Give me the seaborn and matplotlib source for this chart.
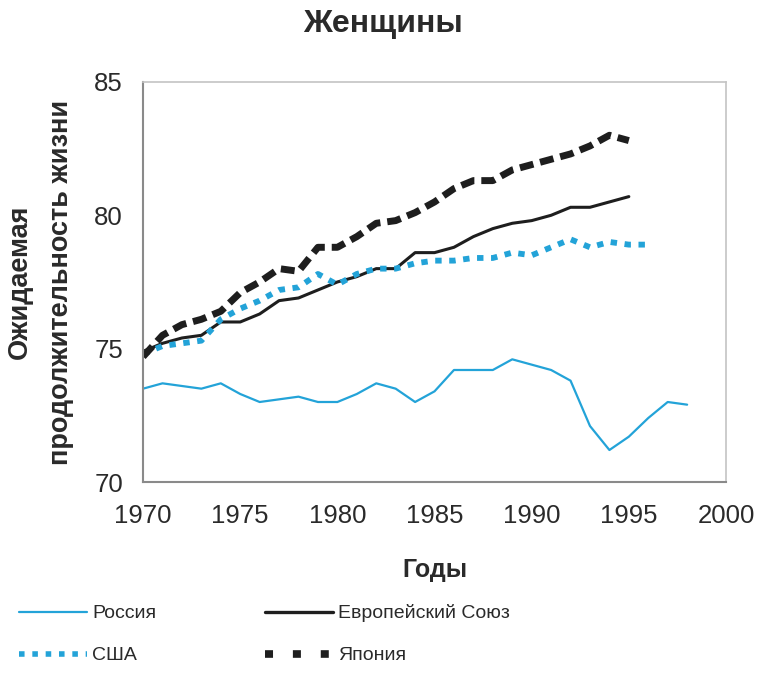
import matplotlib
matplotlib.use("Agg")
import matplotlib.pyplot as plt
from matplotlib.lines import Line2D
import seaborn as sns
import pandas as pd

# Female life expectancy, years
years_russia = list(range(1970, 1999))
russia = [73.5, 73.7, 73.6, 73.5, 73.7, 73.3, 73.0, 73.1, 73.2, 73.0,
          73.0, 73.3, 73.7, 73.5, 73.0, 73.4, 74.2, 74.2, 74.2, 74.6,
          74.4, 74.2, 73.8, 72.1, 71.2, 71.7, 72.4, 73.0, 72.9]

years_eu = list(range(1970, 1996))
eu = [74.9, 75.2, 75.4, 75.5, 76.0, 76.0, 76.3, 76.8, 76.9, 77.2,
      77.5, 77.7, 78.0, 78.0, 78.6, 78.6, 78.8, 79.2, 79.5, 79.7,
      79.8, 80.0, 80.3, 80.3, 80.5, 80.7]

years_usa = list(range(1970, 1997))
usa = [74.8, 75.1, 75.2, 75.3, 76.1, 76.5, 76.8, 77.2, 77.3, 77.8,
       77.4, 77.8, 78.0, 78.0, 78.2, 78.3, 78.3, 78.4, 78.4, 78.6,
       78.5, 78.8, 79.1, 78.8, 79.0, 78.9, 78.9]

years_japan = list(range(1970, 1996))
japan = [74.7, 75.5, 75.9, 76.1, 76.4, 77.1, 77.5, 78.0, 77.9, 78.8,
         78.8, 79.2, 79.7, 79.8, 80.1, 80.5, 81.0, 81.3, 81.3, 81.7,
         81.9, 82.1, 82.3, 82.6, 83.0, 82.8]

x_ticks = [1970, 1975, 1980, 1985, 1990, 1995, 2000]
y_ticks = [70, 75, 80, 85]

BLUE = "#23a3d8"
BLACK = "#1e1e1e"

sns.set_style("white")
plt.rcParams["font.family"] = ["Liberation Sans", "DejaVu Sans"]

fig = plt.figure(figsize=(7.61, 6.77), dpi=100)
ax = fig.add_axes([0.188, 0.288, 0.766, 0.591])

df_r = pd.DataFrame({"year": years_russia, "value": russia})
df_e = pd.DataFrame({"year": years_eu, "value": eu})
df_u = pd.DataFrame({"year": years_usa, "value": usa})
df_j = pd.DataFrame({"year": years_japan, "value": japan})

sns.lineplot(data=df_r, x="year", y="value", ax=ax, color=BLUE, lw=1.6)
sns.lineplot(data=df_e, x="year", y="value", ax=ax, color=BLACK, lw=2.2)
sns.lineplot(data=df_u, x="year", y="value", ax=ax, color=BLUE, lw=4.2,
             dashes=False, linestyle=(0, (1.1, 1.3)), dash_capstyle="butt")
sns.lineplot(data=df_j, x="year", y="value", ax=ax, color=BLACK, lw=5.0,
             dashes=False, linestyle=(0, (2.0, 1.0)), dash_capstyle="butt")

ax.set_xlim(1970, 2000)
ax.set_ylim(70, 85)
ax.set_xticks(x_ticks)
ax.set_yticks(y_ticks)
ax.tick_params(axis="both", direction="inout", length=9, width=1.1,
               color="#888888", labelsize=18.5, labelcolor="#2a2a2a")
ax.tick_params(axis="y", pad=10)
ax.tick_params(axis="x", pad=11)

for side in ["left", "bottom"]:
    ax.spines[side].set_color("#8a8a8a")
    ax.spines[side].set_linewidth(1.5)
for side in ["top", "right"]:
    ax.spines[side].set_color("#c4c4c4")
    ax.spines[side].set_linewidth(1.2)

ax.set_xlabel("Годы", fontsize=18, fontweight="bold", color="#2a2a2a",
              labelpad=22)
ax.set_ylabel("Ожидаемая\nпродолжительность жизни", fontsize=19.5,
              fontweight="bold", color="#2a2a2a", linespacing=1.75)
ax.yaxis.set_label_coords(-0.118, 0.5)

fig.text(0.503, 0.965, "Женщины", ha="center", va="center",
         fontsize=23, fontweight="bold", color="#2a2a2a")

handles = [
    Line2D([], [], color=BLUE, lw=1.6),
    Line2D([], [], color=BLUE, lw=4.0, linestyle=(0, (1.0, 1.4)),
           dash_capstyle="butt"),
    Line2D([], [], color=BLACK, lw=2.4),
    Line2D([], [], color=BLACK, lw=5.5, linestyle=(0, (1.05, 2.6)),
           dash_capstyle="butt"),
]
labels = ["Россия", "США", "Европейский Союз", "Япония"]
fig.legend(handles, labels, ncol=2, loc="upper left",
           bbox_to_anchor=(0.002, 0.133), frameon=False, fontsize=14,
           handlelength=3.5, handletextpad=0.25, columnspacing=5.6,
           labelspacing=1.25, labelcolor="#2a2a2a")

fig.savefig("out.png", dpi=100)
